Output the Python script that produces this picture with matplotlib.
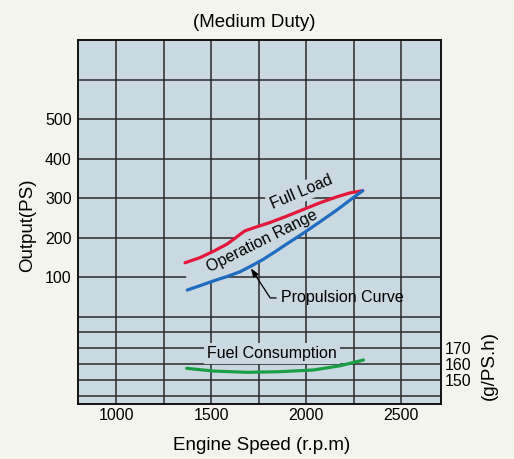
import numpy as np
import matplotlib
matplotlib.use("Agg")
import matplotlib.pyplot as plt

plt.rcParams['font.family'] = ['Liberation Sans', 'DejaVu Sans']

# engine speed (rpm) / output (PS)
full_load_rpm = [1363, 1442, 1512, 1583, 1626, 1653, 1679, 1740, 1811, 1898, 1986, 2074, 2162, 2232, 2298]
full_load_ps = [136, 149, 165, 183, 198, 208, 217, 227, 238, 254, 271, 288, 303, 313, 318.5]

prop_rpm = [1375, 1442, 1512, 1583, 1653, 1714, 1775, 1837, 1898, 1986, 2074, 2162, 2232, 2298]
prop_ps = [67, 78, 90, 101, 113.4, 128.6, 144.8, 164, 183.5, 211, 240, 269.6, 295, 318.5]

# fuel consumption (g/PS.h)
fuel_rpm = [1372, 1512, 1688, 1863, 2038, 2179, 2302]
fuel_gpsh = [157.3, 155.6, 154.8, 155.2, 156.25, 158.9, 162.5]

bg_fig = '#f4f4ee'
bg_ax = '#cad8e1'
grid_col = '#2a2a2a'

fig = plt.figure(figsize=(5.14, 4.59), dpi=100, facecolor=bg_fig)
ax = fig.add_axes([78 / 514, 1 - 404 / 459, 363 / 514, 364 / 459])
ax.set_facecolor(bg_ax)
ax.set_xlim(800, 2710)
ax.set_ylim(-221.5, 700)
ax.set_axisbelow(True)

ax.set_xticks([1000, 1500, 2000, 2500])
ax.set_xticks([1250, 1750, 2250], minor=True)
ax.set_yticks([100, 200, 300, 400, 500])
ax.set_yticks([0, 600], minor=True)
ax.grid(True, which='both', color=grid_col, lw=1.1)
ax.tick_params(which='both', length=0, labelsize=11.5)
ax.tick_params(axis='y', pad=4.5)
ax.tick_params(axis='x', pad=3)
for s in ax.spines.values():
    s.set_color('#111111')
    s.set_linewidth(1.2)

# operation range mask over the grid
ax.fill(np.r_[full_load_rpm, prop_rpm[::-1]], np.r_[full_load_ps, prop_ps[::-1]],
        color=bg_ax, zorder=1, lw=0)

ax.plot(full_load_rpm, full_load_ps, color='#e3173b', lw=2.3, zorder=4,
        solid_capstyle='round', solid_joinstyle='round')
ax.plot(prop_rpm, prop_ps, color='#1f6cc0', lw=2.3, zorder=4,
        solid_capstyle='round', solid_joinstyle='round')

box = dict(boxstyle='square,pad=0.15', fc=bg_ax, ec='none')
ax.text(1974, 314, 'Full Load', fontsize=11.5, rotation=23, ha='center', va='center',
        rotation_mode='anchor', bbox=box, zorder=3)
ax.text(1770, 190, 'Operation Range', fontsize=11.5, rotation=26.5, ha='center', va='center',
        rotation_mode='anchor', zorder=3)
ax.annotate('Propulsion Curve', xy=(1710, 122), xytext=(1868, 47), fontsize=11.5,
            ha='left', va='center',
            arrowprops=dict(arrowstyle='-|>,head_length=0.5,head_width=0.18',
                            connectionstyle='angle,angleA=0,angleB=123,rad=0',
                            color='black', lw=0.9, relpos=(0, 0.5),
                            shrinkA=1.5, shrinkB=0, mutation_scale=10))

# fuel consumption scale on the right
ax2 = ax.twinx()
ax2.set_ylim(135, 362.5)
ax2.set_axisbelow(True)
ax2.set_yticks([150, 160, 170])
ax2.set_yticks([140, 180], minor=True)
ax2.grid(True, axis='y', which='both', color=grid_col, lw=1.1)
ax2.tick_params(which='both', length=0, labelsize=11.5, pad=3)
for s in ax2.spines.values():
    s.set_color('#111111')
    s.set_linewidth(1.2)

ax2.plot(fuel_rpm, fuel_gpsh, color='#1a9f45', lw=2.3, zorder=4,
         solid_capstyle='round', solid_joinstyle='round')
ax2.text(1819, 166.7, 'Fuel Consumption', fontsize=11.5, ha='center', va='center',
         bbox=dict(boxstyle='square,pad=0.2', fc=bg_ax, ec='none'), zorder=3)

fig.text(254 / 514, 1 - 22.5 / 459, '(Medium Duty)', fontsize=13.5, ha='center', va='center')
fig.text(261.7 / 514, 1 - 445.8 / 459, 'Engine Speed (r.p.m)', fontsize=13.5, ha='center', va='center')
fig.text(28 / 514, 1 - 225 / 459, 'Output(PS)', fontsize=13.5, ha='center', va='center', rotation=90)
fig.text(489 / 514, 1 - 366 / 459, '(g/PS.h)', fontsize=13.5, ha='center', va='center', rotation=90)

fig.savefig('out.png', dpi=100, facecolor=bg_fig)
